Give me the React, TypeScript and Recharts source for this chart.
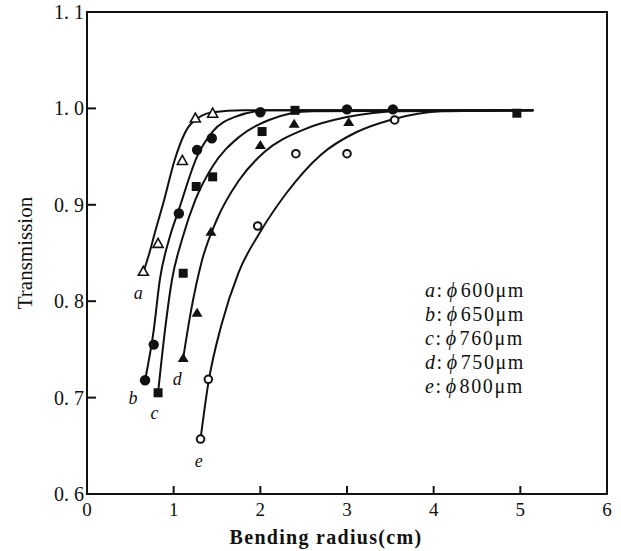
import React from 'react';
import {
  ComposedChart,
  Line,
  Scatter,
  XAxis,
  YAxis,
  ReferenceArea,
  ReferenceDot,
} from 'recharts';

// tick values / labels
const xTicks = [0, 1, 2, 3, 4, 5, 6];
const yTicks = [0.6, 0.7, 0.8, 0.9, 1.0, 1.1];
const yTickLabels = ['0. 6', '0. 7', '0. 8', '0. 9', '1. 0', '1. 1'];

// measured points (bending radius cm, transmission)
const pointsA = [
  { x: 0.65, y: 0.831 }, { x: 0.82, y: 0.86 }, { x: 1.1, y: 0.946 },
  { x: 1.25, y: 0.99 }, { x: 1.45, y: 0.995 },
];
const pointsB = [
  { x: 0.67, y: 0.718 }, { x: 0.77, y: 0.755 }, { x: 1.06, y: 0.891 },
  { x: 1.27, y: 0.957 }, { x: 1.44, y: 0.969 }, { x: 2.0, y: 0.996 },
  { x: 3.0, y: 0.999 }, { x: 3.53, y: 0.999 },
];
const pointsC = [
  { x: 0.82, y: 0.705 }, { x: 1.11, y: 0.829 }, { x: 1.26, y: 0.919 },
  { x: 1.45, y: 0.929 }, { x: 2.02, y: 0.976 }, { x: 2.4, y: 0.998 },
  { x: 4.96, y: 0.995 },
];
const pointsD = [
  { x: 1.11, y: 0.741 }, { x: 1.27, y: 0.788 }, { x: 1.43, y: 0.872 },
  { x: 2.0, y: 0.962 }, { x: 2.39, y: 0.984 }, { x: 3.02, y: 0.986 },
];
const pointsE = [
  { x: 1.31, y: 0.657 }, { x: 1.4, y: 0.719 }, { x: 1.97, y: 0.878 },
  { x: 2.41, y: 0.953 }, { x: 3.0, y: 0.953 }, { x: 3.55, y: 0.988 },
];

// fitted curves
const curveA = [
  { x: 0.65, y: 0.83 }, { x: 0.72, y: 0.85 }, { x: 0.78, y: 0.87 },
  { x: 0.89, y: 0.905 }, { x: 1.01, y: 0.946 }, { x: 1.19, y: 0.983 },
  { x: 1.45, y: 0.996 }, { x: 1.8, y: 0.998 }, { x: 5.15, y: 0.998 },
];
const curveB = [
  { x: 0.67, y: 0.718 }, { x: 0.77, y: 0.77 }, { x: 0.84, y: 0.822 },
  { x: 0.95, y: 0.865 }, { x: 1.06, y: 0.895 }, { x: 1.27, y: 0.95 },
  { x: 1.45, y: 0.976 }, { x: 1.7, y: 0.991 }, { x: 2.1, y: 0.998 },
  { x: 5.15, y: 0.998 },
];
const curveC = [
  { x: 0.82, y: 0.705 }, { x: 0.9, y: 0.77 }, { x: 0.98, y: 0.822 },
  { x: 1.1, y: 0.865 }, { x: 1.25, y: 0.905 }, { x: 1.45, y: 0.94 },
  { x: 1.75, y: 0.97 }, { x: 2.1, y: 0.988 }, { x: 2.6, y: 0.997 },
  { x: 5.15, y: 0.998 },
];
const curveD = [
  { x: 1.11, y: 0.741 }, { x: 1.2, y: 0.79 }, { x: 1.32, y: 0.84 },
  { x: 1.5, y: 0.885 }, { x: 1.75, y: 0.925 }, { x: 2.05, y: 0.955 },
  { x: 2.5, y: 0.978 }, { x: 3.0, y: 0.991 }, { x: 3.6, y: 0.997 },
  { x: 5.15, y: 0.998 },
];
const curveE = [
  { x: 1.31, y: 0.657 }, { x: 1.4, y: 0.715 }, { x: 1.55, y: 0.775 },
  { x: 1.75, y: 0.83 }, { x: 2.0, y: 0.872 }, { x: 2.3, y: 0.912 },
  { x: 2.7, y: 0.952 }, { x: 3.1, y: 0.975 }, { x: 3.5, y: 0.988 },
  { x: 4.1, y: 0.997 }, { x: 5.15, y: 0.998 },
];

const curveLabels = [
  { name: 'a', x: 0.59, y: 0.809 },
  { name: 'b', x: 0.53, y: 0.7 },
  { name: 'c', x: 0.78, y: 0.684 },
  { name: 'd', x: 1.04, y: 0.72 },
  { name: 'e', x: 1.29, y: 0.635 },
];

const legendNames = ['a', 'b', 'c', 'd', 'e'];
const legendSizes = ['600', '650', '760', '750', '800'];

const FONT = '"Liberation Serif", "DejaVu Serif", serif';
const INK = '#111';

const PLOT_LEFT = 87;
const PLOT_TOP = 12;
const PLOT_BOTTOM = 494;

const OpenTriangle = (p: any) => (
  <polygon
    points={`${p.cx},${p.cy - 5} ${p.cx - 5},${p.cy + 4} ${p.cx + 5},${p.cy + 4}`}
    fill="#fff" stroke={INK} strokeWidth={1.6}
  />
);
const FilledCircle = (p: any) => <circle cx={p.cx} cy={p.cy} r={5.2} fill={INK} />;
const FilledSquare = (p: any) => (
  <rect x={p.cx - 4.5} y={p.cy - 4.5} width={9} height={9} fill={INK} />
);
const FilledTriangle = (p: any) => (
  <polygon
    points={`${p.cx},${p.cy - 5} ${p.cx - 5.5},${p.cy + 4} ${p.cx + 5.5},${p.cy + 4}`}
    fill={INK}
  />
);
const OpenCircle = (p: any) => (
  <circle cx={p.cx} cy={p.cy} r={3.8} fill="#fff" stroke={INK} strokeWidth={2} />
);

const YTick = (props: any) => {
  const { y, payload } = props;
  const i = yTicks.findIndex((v) => Math.abs(v - payload.value) < 1e-6);
  return (
    <g>
      <line x1={PLOT_LEFT} x2={PLOT_LEFT + 9} y1={y} y2={y} stroke={INK} strokeWidth={2} />
      <text x={PLOT_LEFT - 3} y={y + 7} textAnchor="end" fontFamily={FONT} fontSize={20} fill={INK}>
        {yTickLabels[i]}
      </text>
    </g>
  );
};

const XTick = (props: any) => {
  const { x, payload } = props;
  return (
    <g>
      <line x1={x} x2={x} y1={PLOT_BOTTOM} y2={PLOT_BOTTOM - 8} stroke={INK} strokeWidth={2} />
      <text x={x} y={PLOT_BOTTOM + 22} textAnchor="middle" fontFamily={FONT} fontSize={19} fill={INK}>
        {payload.value}
      </text>
    </g>
  );
};

const curves = [curveA, curveB, curveC, curveD, curveE];

export default function App() {
  return (
    <div style={{ position: 'fixed', left: 0, top: 0, width: 621, height: 551, background: '#fff' }}>
      <ComposedChart
        width={621}
        height={551}
        margin={{ top: PLOT_TOP, right: 14, left: 0, bottom: 27 }}
      >
        <XAxis
          type="number"
          dataKey="x"
          domain={[0, 6]}
          ticks={xTicks}
          interval={0}
          allowDataOverflow
          height={30}
          axisLine={false}
          tickLine={false}
          tick={<XTick />}
        />
        <YAxis
          type="number"
          dataKey="y"
          domain={[0.6, 1.1]}
          ticks={yTicks}
          interval={0}
          allowDataOverflow
          width={PLOT_LEFT}
          axisLine={false}
          tickLine={false}
          tick={<YTick />}
        />
        <ReferenceArea
          x1={0}
          x2={6}
          y1={0.6}
          y2={1.1}
          fill="none"
          fillOpacity={0}
          stroke={INK}
          strokeWidth={2}
          strokeOpacity={1}
        />
        {curves.map((c, i) => (
          <Line
            key={i}
            data={c}
            dataKey="y"
            type="monotone"
            stroke={INK}
            strokeWidth={2}
            dot={false}
            activeDot={false}
            isAnimationActive={false}
          />
        ))}
        <Scatter data={pointsA} shape={<OpenTriangle />} isAnimationActive={false} />
        <Scatter data={pointsB} shape={<FilledCircle />} isAnimationActive={false} />
        <Scatter data={pointsC} shape={<FilledSquare />} isAnimationActive={false} />
        <Scatter data={pointsD} shape={<FilledTriangle />} isAnimationActive={false} />
        <Scatter data={pointsE} shape={<OpenCircle />} isAnimationActive={false} />
        {curveLabels.map((l) => (
          <ReferenceDot
            key={l.name}
            x={l.x}
            y={l.y}
            r={0}
            fill="none"
            stroke="none"
            label={{
              value: l.name,
              position: 'center',
              fontFamily: FONT,
              fontStyle: 'italic',
              fontSize: 18,
              fill: INK,
            }}
          />
        ))}
      </ComposedChart>
      <div
        style={{
          position: 'absolute', left: 25, top: 253, transform: 'translate(-50%, -50%) rotate(-90deg)',
          fontFamily: FONT, fontSize: 21, color: INK, whiteSpace: 'nowrap',
        }}
      >
        Transmission
      </div>
      <div
        style={{
          position: 'absolute', left: 326, top: 537, transform: 'translate(-50%, -50%)',
          fontFamily: FONT, fontSize: 20, fontWeight: 'bold', color: INK, whiteSpace: 'nowrap',
          letterSpacing: 1.3,
        }}
      >
        Bending radius(cm)
      </div>
      <div
        style={{
          position: 'absolute', left: 425, top: 278, fontFamily: FONT, fontSize: 20,
          color: INK, lineHeight: '24px', letterSpacing: 1.6,
        }}
      >
        {legendNames.map((n, i) => (
          <div key={n} style={{ whiteSpace: 'nowrap' }}>
            <i>{n}</i>:<i style={{ marginLeft: 3, marginRight: 2 }}>ϕ</i>{legendSizes[i]}μm
          </div>
        ))}
      </div>
    </div>
  );
}
